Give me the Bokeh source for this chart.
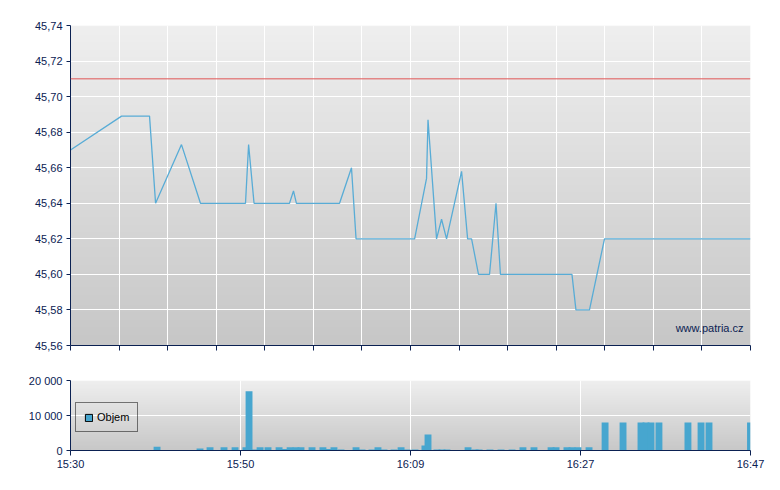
import numpy as np
from bokeh.plotting import figure
from bokeh.models import (Range1d, FixedTicker, CustomJSTickFormatter, Span, Label,
                          Legend, LegendItem, ColumnDataSource)
from bokeh.layouts import column
from bokeh.embed import file_html
from bokeh.resources import INLINE

# ---------------- data ----------------
start_time = "15:30:00"
end_time = "16:47:00"

price_times = ["15:30:00", "15:35:47", "15:38:57", "15:39:38", "15:42:34", "15:44:43",
               "15:49:49", "15:50:10", "15:50:47", "15:54:48", "15:55:15", "15:55:35",
               "16:00:28", "16:01:49", "16:02:20", "16:08:58", "16:10:19", "16:10:29",
               "16:11:27", "16:12:01", "16:12:35", "16:14:17", "16:14:58", "16:15:25",
               "16:16:12", "16:17:27", "16:18:11", "16:18:41", "16:26:47", "16:27:14",
               "16:28:46", "16:30:28", "16:47:00"]
prices = [45.670, 45.689, 45.689, 45.640, 45.673, 45.640,
          45.640, 45.673, 45.640, 45.640, 45.647, 45.640,
          45.640, 45.660, 45.620, 45.620, 45.654, 45.687,
          45.620, 45.631, 45.620, 45.658, 45.620, 45.620,
          45.600, 45.600, 45.640, 45.600, 45.600, 45.580,
          45.580, 45.620, 45.620]
reference_price = 45.71

volume_times = ["15:39:48", "15:44:40", "15:45:48", "15:47:23", "15:48:38", "15:49:52",
                "15:50:13", "15:50:53", "15:51:28", "15:52:22", "15:53:37", "15:54:17",
                "15:54:52", "15:55:32", "15:56:06", "15:57:21", "15:58:35", "15:59:06",
                "15:59:50", "16:00:38", "16:02:20", "16:03:01", "16:04:08", "16:04:49",
                "16:05:30", "16:06:38", "16:07:26", "16:08:07", "16:09:01", "16:10:08",
                "16:10:29", "16:11:30", "16:12:04", "16:12:38", "16:15:01", "16:15:49",
                "16:16:16", "16:17:30", "16:18:45", "16:20:00", "16:21:14", "16:22:29",
                "16:24:25", "16:24:59", "16:26:13", "16:26:47", "16:27:28", "16:28:43",
                "16:30:32", "16:32:34", "16:34:36", "16:35:10", "16:35:44", "16:36:38",
                "16:39:55", "16:41:24", "16:42:18", "16:47:00"]
volumes = [1100, 600, 900, 900, 900, 900,
           16900, 300, 900, 900, 900, 400,
           900, 900, 900, 900, 900, 400,
           900, 300, 900, 300, 300, 900,
           300, 300, 900, 300, 300, 1400,
           4600, 300, 300, 300, 900, 300,
           300, 300, 300, 300, 900, 900,
           900, 900, 900, 900, 900, 900,
           8000, 8000, 8000, 8000, 8000, 8000,
           8000, 8000, 8000, 8000]

x_tick_labels = ["15:30", "15:50", "16:09", "16:27", "16:47"]
price_ticks = [45.56, 45.58, 45.60, 45.62, 45.64, 45.66, 45.68, 45.70, 45.72, 45.74]
volume_ticks = [0, 10000, 20000]
legend_label = "Objem"
watermark = "www.patria.cz"

# ---------------- helpers ----------------
def secs(t):
    h, m, s = map(int, t.split(":"))
    return h * 3600 + m * 60 + s

T0 = secs(start_time)
def to_min(t):
    return (secs(t) - T0) / 60.0

x_end = to_min(end_time)
px = [to_min(t) for t in price_times]
vx = [to_min(t) for t in volume_times]

NAVY = "#0b2152"
FONT = "Liberation Sans"
FS = "11px"

def gradient_image(top, bottom, n=128):
    vals = np.linspace(bottom, top, n).astype(np.uint8)
    img = np.zeros((n, 1), dtype=np.uint32)
    view = img.view(dtype=np.uint8).reshape((n, 1, 4))
    view[:, 0, 0] = vals
    view[:, 0, 1] = vals
    view[:, 0, 2] = vals
    view[:, 0, 3] = 255
    return img

def style_axes(p):
    for ax in (p.xaxis[0], p.yaxis[0]):
        ax.axis_line_color = NAVY
        ax.major_tick_line_color = NAVY
        ax.minor_tick_line_color = None
        ax.major_tick_in = 0
        ax.major_label_text_color = NAVY
        ax.major_label_text_font = FONT
        ax.major_label_text_font_size = FS
    p.yaxis[0].major_tick_out = 4
    p.yaxis[0].major_label_standoff = 4
    p.xaxis[0].major_tick_out = 5
    p.xaxis[0].major_label_standoff = 2
    p.grid.grid_line_color = "white"
    p.grid.grid_line_width = 1
    p.outline_line_color = None
    p.background_fill_color = None
    p.border_fill_color = "white"

# ---------------- price chart ----------------
y0, y1 = price_ticks[0], price_ticks[-1]
p = figure(frame_width=680, frame_height=320, output_backend="svg", toolbar_location=None,
           x_range=Range1d(0, x_end), y_range=Range1d(y0, y1),
           min_border_left=70, min_border_right=22, min_border_top=25, min_border_bottom=10)
p.image_rgba(image=[gradient_image(239, 199)], x=0, y=y0, dw=x_end, dh=y1 - y0, level="image")
style_axes(p)
n_div = 14
p.xaxis[0].ticker = FixedTicker(ticks=[i * x_end / n_div for i in range(n_div + 1)])
p.xaxis[0].formatter = CustomJSTickFormatter(code="return '';")
p.xaxis[0].major_label_standoff = 0
p.yaxis[0].ticker = FixedTicker(ticks=price_ticks)
p.yaxis[0].formatter = CustomJSTickFormatter(code="return tick.toFixed(2).replace('.', ',');")

p.add_layout(Span(location=reference_price, dimension="width",
                  line_color="#e05656", line_width=1))
p.line(px, prices, line_color="#58acd6", line_width=1.3)
p.add_layout(Label(x=x_end, y=y0, x_offset=-7, y_offset=18, text=watermark,
                   text_align="right", text_baseline="alphabetic",
                   text_color=NAVY, text_font=FONT, text_font_size=FS))

# ---------------- volume chart ----------------
v0, v1 = volume_ticks[0], volume_ticks[-1]
q = figure(frame_width=680, frame_height=70, output_backend="svg", toolbar_location=None,
           x_range=p.x_range, y_range=Range1d(v0, v1),
           min_border_left=70, min_border_right=22, min_border_top=25, min_border_bottom=30)
q.image_rgba(image=[gradient_image(239, 200)], x=0, y=v0, dw=x_end, dh=v1 - v0, level="image")
style_axes(q)
tick_pos = [i * x_end / (len(x_tick_labels) - 1) for i in range(len(x_tick_labels))]
q.xaxis[0].ticker = FixedTicker(ticks=tick_pos)
q.xaxis[0].formatter = CustomJSTickFormatter(
    args=dict(pos=tick_pos, lab=x_tick_labels),
    code="let k = 0; for (let i = 0; i < pos.length; i++) { if (Math.abs(pos[i] - tick) < 1e-6) k = i; } return lab[k];")
q.yaxis[0].ticker = FixedTicker(ticks=volume_ticks)
q.yaxis[0].formatter = CustomJSTickFormatter(
    code="return String(Math.round(tick)).replace(/\\B(?=(\\d{3})+(?!\\d))/g, ' ');")

BAR = "#47a6cf"
q.vbar(x=vx, top=volumes, bottom=0, width=0.78, fill_color=BAR, line_color=None)
dummy = q.vbar(x=[float("nan")], top=[float("nan")], bottom=0, width=0.78,
               fill_color=BAR, line_color="black", line_width=1)
legend = Legend(items=[LegendItem(label=legend_label, renderers=[dummy])],
                location=(5, 18), padding=8, margin=0, spacing=0,
                glyph_width=9, glyph_height=9, label_height=11, label_standoff=4,
                label_text_font=FONT, label_text_font_size=FS, label_text_color="black",
                border_line_color="black", border_line_width=1,
                background_fill_alpha=0)
q.add_layout(legend)

layout = column(p, q, spacing=0)
open("out.html", "w").write(file_html(layout, INLINE))
